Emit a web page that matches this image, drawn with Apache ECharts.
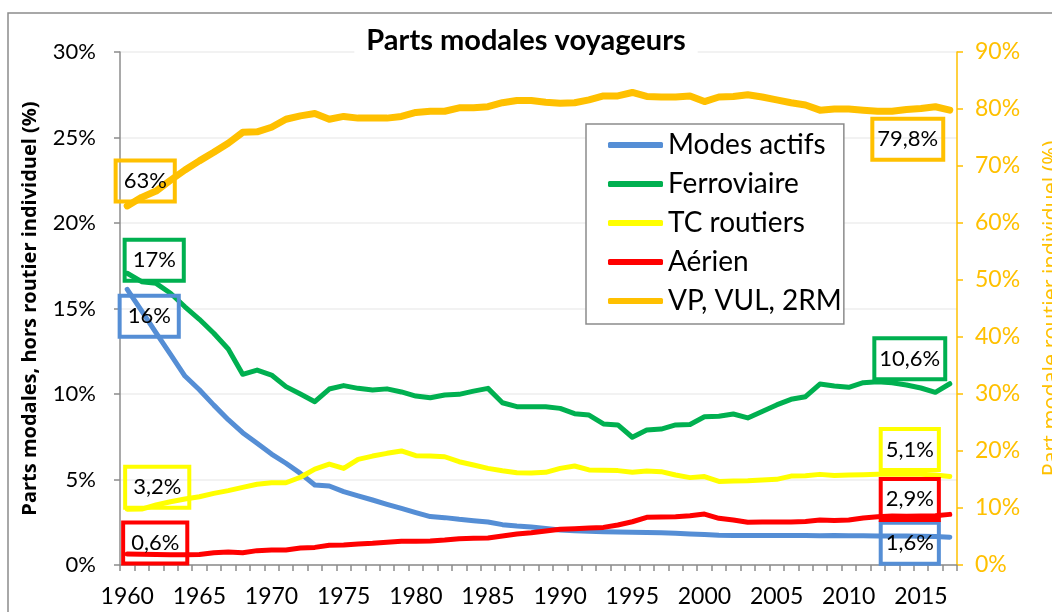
<!DOCTYPE html>
<html>
<head>
<meta charset="utf-8">
<script src="https://cdn.jsdelivr.net/npm/echarts@6/dist/echarts.min.js"></script>
<style>
html,body{margin:0;padding:0;background:#fff;}
#chart{width:1052px;height:612px;}
</style>
</head>
<body>
<div id="chart"></div>
<script>
// ---- DATA ----
const years = [];
for (let y = 1960; y <= 2017; y++) years.push(String(y));

const seriesNames = ['Modes actifs', 'Ferroviaire', 'TC routiers', 'Aérien', 'VP, VUL, 2RM'];

const modesActifs = [16.12,14.86,13.57,12.32,11.05,10.25,9.35,8.5,7.74,7.12,6.49,5.95,5.36,4.68,4.62,4.29,4.04,3.8,3.55,3.31,3.06,2.83,2.77,2.67,2.59,2.51,2.36,2.28,2.22,2.14,2.05,2.0,1.97,1.95,1.93,1.92,1.9,1.88,1.85,1.82,1.78,1.74,1.72,1.72,1.72,1.72,1.72,1.72,1.71,1.72,1.71,1.71,1.7,1.7,1.69,1.68,1.66,1.63];
const ferroviaire = [17.06,16.57,16.47,15.89,15.1,14.37,13.55,12.63,11.15,11.4,11.11,10.43,10.0,9.55,10.29,10.49,10.33,10.23,10.3,10.12,9.88,9.78,9.94,9.98,10.17,10.33,9.49,9.26,9.26,9.25,9.16,8.85,8.77,8.25,8.19,7.47,7.89,7.95,8.19,8.22,8.67,8.7,8.83,8.6,8.98,9.36,9.69,9.84,10.58,10.47,10.39,10.66,10.72,10.66,10.53,10.35,10.1,10.6];
const tcRoutiers = [3.26,3.27,3.51,3.7,3.86,3.99,4.19,4.35,4.54,4.72,4.81,4.81,5.13,5.61,5.9,5.65,6.18,6.37,6.53,6.67,6.39,6.37,6.33,6.04,5.85,5.65,5.51,5.4,5.38,5.42,5.65,5.79,5.56,5.54,5.52,5.42,5.5,5.46,5.26,5.11,5.17,4.89,4.91,4.93,4.97,5.01,5.2,5.22,5.3,5.24,5.26,5.28,5.3,5.3,5.3,5.3,5.26,5.17];
const aerien = [0.64,0.63,0.62,0.6,0.6,0.62,0.72,0.76,0.72,0.84,0.88,0.88,0.99,1.03,1.15,1.17,1.23,1.27,1.33,1.39,1.39,1.41,1.46,1.54,1.56,1.58,1.7,1.81,1.88,1.99,2.09,2.12,2.16,2.2,2.34,2.53,2.79,2.8,2.82,2.88,2.98,2.73,2.63,2.5,2.51,2.51,2.51,2.55,2.63,2.6,2.63,2.75,2.82,2.86,2.85,2.86,2.88,2.96];
const vpVulRm = [63.0,64.5,65.6,67.5,69.3,70.9,72.4,74.0,75.9,76.0,76.8,78.2,78.8,79.2,78.2,78.7,78.4,78.4,78.4,78.7,79.4,79.6,79.6,80.2,80.2,80.4,81.1,81.5,81.5,81.2,81.0,81.1,81.6,82.3,82.3,82.9,82.2,82.1,82.1,82.3,81.3,82.1,82.2,82.5,82.1,81.6,81.1,80.7,79.8,80.0,80.0,79.8,79.6,79.6,79.9,80.1,80.4,79.8];

// first / last value labels (as displayed)
const firstLabels = ['16%', '17%', '3,2%', '0,6%', '63%'];
const lastLabels  = ['1,6%', '10,6%', '5,1%', '2,9%', '79,8%'];

const leftTicks = [0, 5, 10, 15, 20, 25, 30];
const rightTicks = [0, 10, 20, 30, 40, 50, 60, 70, 80, 90];

// ---- STYLE ----
const colors = ['#558ED5', '#00B050', '#FFFF00', '#FF0000', '#FFC000'];
const widths = [5, 5, 5, 5, 7];
const firstOffsets = [[22, 27], [27, -13], [30, -22], [28, -11], [18, -25]];
const lastOffsets  = [[-40, 6], [-40, -25], [-40, -27], [-40, -15], [-42, 29]];
const FONT = 'Lato, "Noto Sans", sans-serif';
const WIDEFONT = '"Open Sans", "Noto Sans", sans-serif';

function labelCfg(text, color, offset, first) {
  return {
    show: true,
    position: 'inside',
    offset: offset,
    formatter: text,
    color: '#000',
    fontFamily: FONT,
    fontSize: 22,
    lineHeight: 24,
    borderColor: color,
    borderWidth: 2,
    padding: first ? [9, 8, 8, 8] : [9, 5, 8, 5],
    backgroundColor: 'transparent'
  };
}

function buildData(values, si) {
  return values.map((v, i) => {
    if (i === 0) return { value: v, label: labelCfg(firstLabels[si], colors[si], firstOffsets[si], true) };
    if (i === values.length - 1) return { value: v, label: labelCfg(lastLabels[si], colors[si], lastOffsets[si], false) };
    return { value: v };
  });
}

const allValues = [modesActifs, ferroviaire, tcRoutiers, aerien, vpVulRm];

const series = allValues.map((vals, si) => ({
  name: seriesNames[si],
  type: 'line',
  yAxisIndex: si === 4 ? 1 : 0,
  data: buildData(vals, si),
  showSymbol: true,
  showAllSymbol: true,
  symbol: 'circle',
  symbolSize: 2,
  itemStyle: { color: 'rgba(0,0,0,0)' },
  lineStyle: { color: colors[si], width: widths[si], cap: 'round', join: 'round' },
  emphasis: { disabled: true },
  silent: true,
  animation: false,
  z: 3
}));

const chart = echarts.init(document.getElementById('chart'), null, { renderer: 'canvas' });
chart.setOption({
  backgroundColor: '#fff',
  animation: false,
  textStyle: { fontFamily: FONT },
  title: {
    text: 'Parts modales voyageurs',
    left: 'center',
    top: 24,
    padding: [2, 12, 2, 12],
    backgroundColor: '#fff',
    textStyle: { fontFamily: FONT, fontSize: 29, fontWeight: 'bold', color: '#000' },
    z: 10
  },
  graphic: [{
    type: 'rect',
    shape: { x: 8, y: 13, width: 1200, height: 800 },
    style: { fill: 'none', stroke: '#8c8c8c', lineWidth: 1.5 },
    silent: true,
    z: -1
  }],
  legend: {
    orient: 'vertical',
    left: 586,
    top: 124,
    data: seriesNames.map((n, i) => ({ name: n, itemStyle: { color: colors[i], opacity: 1 } })),
    icon: 'roundRect',
    itemWidth: 55,
    itemHeight: 6,
    itemGap: 11,
    padding: [7, 2, 9, 22],
    borderColor: '#8c8c8c',
    borderWidth: 1.5,
    backgroundColor: '#fff',
    textStyle: { fontFamily: FONT, fontSize: 28, color: '#000' },
    selectedMode: false,
    z: 8
  },
  grid: { left: 120, right: 95, top: 52, bottom: 47, containLabel: false, outerBoundsMode: 'none' },
  xAxis: {
    type: 'category',
    data: years,
    boundaryGap: true,
    axisLine: { lineStyle: { color: '#8c8c8c', width: 1.5 } },
    axisTick: { show: true, interval: 0, length: 6, lineStyle: { color: '#8c8c8c', width: 1.5 } },
    axisLabel: {
      interval: (idx, val) => Number(val) % 5 === 0,
      color: '#000', fontFamily: FONT, fontSize: 23, margin: 20
    },
    splitLine: { show: false }
  },
  yAxis: [{
    type: 'value',
    min: leftTicks[0], max: leftTicks[leftTicks.length - 1], interval: 5,
    name: 'Parts modales, hors routier individuel (%)',
    nameLocation: 'middle',
    nameGap: 80,
    nameRotate: 90,
    nameTextStyle: { fontFamily: WIDEFONT, fontSize: 20, fontWeight: 'bold', color: '#000' },
    axisLine: { show: true, lineStyle: { color: '#8c8c8c', width: 1.5 } },
    axisTick: { show: true, length: 6, lineStyle: { color: '#8c8c8c', width: 1.5 } },
    axisLabel: { formatter: '{value}%', color: '#000', fontFamily: FONT, fontSize: 22, margin: 24 },
    splitLine: { show: true, lineStyle: { color: '#eeeeee', width: 1.5 } }
  }, {
    type: 'value',
    min: rightTicks[0], max: rightTicks[rightTicks.length - 1], interval: 10,
    position: 'right',
    name: 'Part modale routier individuel (%)',
    nameLocation: 'middle',
    nameGap: 84,
    nameRotate: 90,
    nameTextStyle: { fontFamily: WIDEFONT, fontSize: 21.5, color: '#FFC000' },
    axisLine: { show: true, lineStyle: { color: '#FFC000', width: 1.5 } },
    axisTick: { show: true, length: 6, lineStyle: { color: '#FFC000', width: 1.5 } },
    axisLabel: { formatter: '{value}%', color: '#FFC000', fontFamily: FONT, fontSize: 23, margin: 18 },
    splitLine: { show: false }
  }],
  series: series
});
</script>
</body>
</html>
